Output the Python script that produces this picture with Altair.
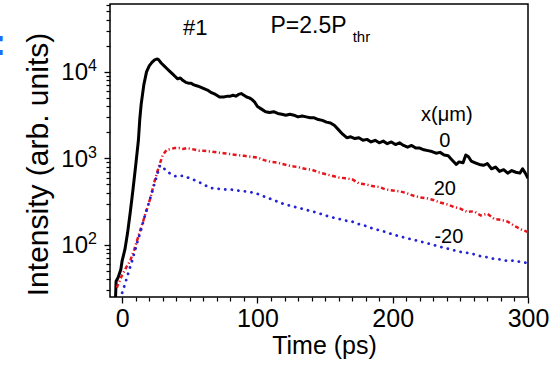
import altair as alt
import pandas as pd

FONT = "Liberation Sans"

# ---- series: time (ps) and intensity (arb. units) ----
t_x0 = [-5, -4.5, -3, -1, 0, 2, 4, 6, 8, 10, 12, 13, 14, 16, 18, 20, 22, 24, 26, 27,
        29, 31, 33, 35, 37, 39, 41, 43, 45, 47, 49, 51, 53, 55, 57, 60, 63, 66, 69, 72,
        75, 78, 80, 82, 84, 86, 88, 90, 92, 94, 96, 98, 100, 103, 106, 109, 112, 115, 118, 121,
        124, 127, 130, 133, 136, 139, 142, 145, 148, 151, 154, 157, 160, 163, 166, 169, 172, 175, 178, 181,
        184, 187, 190, 193, 196, 199, 202, 205, 208, 211, 214, 217, 220, 223, 226, 229, 232, 235, 238, 241,
        244, 247, 249, 252, 254, 256, 258, 261, 264, 267, 270, 273, 276, 279, 282, 285, 288, 291, 294, 296,
        298, 300]
i_x0 = [22, 38, 42, 52, 66, 88, 138, 240, 437, 832, 1622, 2818, 4169, 7079, 10000, 11750, 12880, 13800, 14130, 13800,
        12590, 11750, 10960, 10230, 9550, 8913, 8318, 8511, 7943, 7586, 7413, 7413, 7079, 6918, 6761, 6457, 6166, 5754, 5495, 5129,
        5129, 5248, 5248, 5370, 5248, 5495, 5623, 5370, 5129, 5012, 4786, 4467, 3981, 3715, 3467, 3388, 3467, 3311, 3236, 3162,
        3236, 3162, 3020, 3090, 3020, 2951, 2951, 2818, 2754, 2630, 2570, 2399, 2138, 1905, 1738, 1778, 1698, 1738, 1622, 1660,
        1549, 1622, 1514, 1585, 1479, 1549, 1445, 1514, 1413, 1349, 1413, 1318, 1318, 1259, 1230, 1202, 1148, 1175, 1096, 1072,
        955, 851, 912, 891, 1096, 1047, 933, 891, 851, 832, 871, 759, 794, 708, 741, 676, 724, 692, 676, 759,
        676, 589]

t_x20 = [-4, -2, 0, 3, 6, 9, 12, 15, 18, 21, 24, 27, 30, 33, 36, 39, 42, 45, 48, 51,
         54, 57, 60, 65, 70, 75, 80, 85, 90, 95, 100, 105, 110, 115, 120, 125, 130, 135, 140, 145,
         150, 155, 160, 165, 170, 175, 180, 185, 190, 195, 200, 205, 210, 215, 220, 225, 230, 235, 240, 245,
         250, 255, 260, 265, 270, 275, 280, 285, 290, 295, 300]
i_x20 = [32, 38, 45, 55, 66, 89, 126, 178, 251, 355, 550, 794, 1096, 1259, 1288, 1318, 1318, 1288, 1318, 1288,
         1259, 1230, 1230, 1202, 1175, 1148, 1122, 1096, 1072, 1047, 1023, 955, 912, 891, 851, 813, 794, 759, 741, 692,
         661, 631, 603, 589, 575, 513, 501, 479, 468, 437, 427, 417, 398, 372, 355, 347, 331, 309, 295, 275,
         263, 240, 245, 219, 229, 200, 195, 186, 166, 151, 141]

t_xm20 = [0, 2, 5, 8, 11, 14, 17, 20, 23, 26, 28, 30, 33, 36, 40, 45, 50, 55, 60, 65,
          70, 75, 80, 85, 90, 95, 100, 105, 110, 115, 120, 125, 130, 135, 140, 145, 150, 155, 160, 165,
          170, 175, 180, 185, 190, 195, 200, 205, 210, 215, 220, 225, 230, 235, 240, 245, 250, 255, 260, 265,
          270, 275, 280, 285, 290, 295, 300]
i_xm20 = [28, 35, 50, 71, 105, 151, 224, 316, 457, 661, 832, 794, 708, 661, 617, 631, 589, 550, 501, 457,
          447, 437, 437, 427, 417, 407, 389, 363, 339, 316, 295, 282, 269, 257, 245, 234, 219, 209, 200, 191,
          186, 174, 166, 155, 148, 141, 132, 126, 120, 115, 110, 105, 100, 95, 91, 87, 83, 81, 78, 74,
          72, 69, 68, 65, 66, 63, 62]

# ---- axes ----
x_major = [0, 100, 200, 300]
x_minor = [10, 20, 30, 40, 50, 60, 70, 80, 90, 110, 120, 130, 140, 150, 160, 170, 180, 190,
           210, 220, 230, 240, 250, 260, 270, 280, 290]
y_major = [100, 1000, 10000]
y_minor = [30, 40, 50, 60, 70, 80, 90, 200, 300, 400, 500, 600, 700, 800, 900,
           2000, 3000, 4000, 5000, 6000, 7000, 8000, 9000, 20000, 30000, 40000, 50000, 60000]
y_label_base = ["10", "10", "10"]
y_label_exp = ["2", "3", "4"]

# ---- annotations ----
ann_c_text = ["#1", "x(\u03bcm)", "0", "20", "-20"]
ann_c_t = [54, 240, 238.5, 238.5, 241.5]
ann_c_v = [26800, 2716, 1358, 379, 105]
ann_c_size = [22, 20, 20, 20, 20]

ann_l_text = ["P=2.5P", "thr"]
ann_l_t = [109.6, 170.4]
ann_l_v = [28250, 22200]
ann_l_size = [23, 15]

X_DOM = [-9, 300]
Y_DOM = [25, 61000]

xs = alt.Scale(domain=X_DOM, nice=False, zero=False)
ys = alt.Scale(type="log", domain=Y_DOM, nice=False)

df0 = pd.DataFrame({"t": t_x0, "v": i_x0})
df20 = pd.DataFrame({"t": t_x20, "v": i_x20})
dfm20 = pd.DataFrame({"t": t_xm20, "v": i_xm20})

x_axis = alt.Axis(
    orient="bottom",
    values=x_major, tickSize=6, tickWidth=1.3, tickColor="black",
    labelFont=FONT, labelFontSize=25, labelColor="black", labelPadding=3,
    labelFlush=False, labelOverlap=False,
    domain=False, grid=False,
    title="Time (ps)", titleFont=FONT, titleFontSize=25, titleFontWeight="normal",
    titleColor="black", titleBaseline="alphabetic", titleAlign="center",
    titleX=214, titleY=56,
)
y_axis = alt.Axis(
    orient="left",
    values=y_major, tickSize=6, tickWidth=1.3, tickColor="black",
    labels=False, domain=False, grid=False,
    title="Intensity (arb. units)", titleFont=FONT, titleFontSize=30, titleFontWeight="normal",
    titleColor="black", titleBaseline="alphabetic", titleAlign="center", titleAngle=270,
    titleX=-63, titleY=160,
)
x_axis_minor = alt.Axis(
    orient="bottom", values=x_minor, tickSize=4, tickWidth=1.2, tickColor="black",
    labels=False, domain=False, grid=False, title=None,
)
y_axis_minor = alt.Axis(
    orient="left", values=y_minor, tickSize=4, tickWidth=1.2, tickColor="black",
    labels=False, domain=False, grid=False, title=None,
)

black = alt.Chart(df0).mark_line(color="black", strokeWidth=3, clip=True, strokeJoin="round").encode(
    x=alt.X("t:Q", scale=xs, axis=x_axis),
    y=alt.Y("v:Q", scale=ys, axis=y_axis),
)
red = alt.Chart(df20).mark_line(color="#e8141c", strokeWidth=2.5, clip=True,
                                strokeDash=[4, 2.5, 1.2, 2.5]).encode(
    x=alt.X("t:Q", scale=xs, axis=None),
    y=alt.Y("v:Q", scale=ys, axis=None),
)
blue = alt.Chart(dfm20).mark_line(color="#2222d8", strokeWidth=2.8, clip=True, strokeCap="round",
                                  strokeDash=[0.1, 6.5]).encode(
    x=alt.X("t:Q", scale=xs, axis=None),
    y=alt.Y("v:Q", scale=ys, axis=None),
)

df_ylab = pd.DataFrame({"x": [X_DOM[0]] * 3, "v": y_major, "b": y_label_base, "e": y_label_exp})
# this layer also carries the minor ticks of both axes
ylab_base = alt.Chart(df_ylab).mark_text(align="right", baseline="alphabetic", dx=-22, dy=8.5,
                                         font=FONT, fontSize=24, color="black").encode(
    x=alt.X("x:Q", scale=xs, axis=x_axis_minor),
    y=alt.Y("v:Q", scale=ys, axis=y_axis_minor),
    text="b:N",
)
ylab_exp = alt.Chart(df_ylab).mark_text(align="left", baseline="alphabetic", dx=-22, dy=-0.5,
                                        font=FONT, fontSize=16, color="black").encode(
    x=alt.X("x:Q", scale=xs, axis=None),
    y=alt.Y("v:Q", scale=ys, axis=None),
    text="e:N",
)

df_ac = pd.DataFrame({"t": ann_c_t, "v": ann_c_v, "s": ann_c_text, "fs": ann_c_size})
ann_c = alt.Chart(df_ac).mark_text(align="center", baseline="alphabetic", font=FONT, color="black").encode(
    x=alt.X("t:Q", scale=xs, axis=None),
    y=alt.Y("v:Q", scale=ys, axis=None),
    text="s:N",
    size=alt.Size("fs:Q", scale=None),
)
df_al = pd.DataFrame({"t": ann_l_t, "v": ann_l_v, "s": ann_l_text, "fs": ann_l_size})
ann_l = alt.Chart(df_al).mark_text(align="left", baseline="alphabetic", font=FONT, color="black").encode(
    x=alt.X("t:Q", scale=xs, axis=None),
    y=alt.Y("v:Q", scale=ys, axis=None),
    text="s:N",
    size=alt.Size("fs:Q", scale=None),
)

# cropped blue glyph at the left edge of the original figure
df_mark = pd.DataFrame({"x": [X_DOM[0]], "v": [15700], "s": [":"]})
edge = alt.Chart(df_mark).mark_text(align="left", baseline="alphabetic", dx=-116, font=FONT,
                                    fontWeight="bold", fontSize=36, color="#1e6bff").encode(
    x=alt.X("x:Q", scale=xs, axis=None),
    y=alt.Y("v:Q", scale=ys, axis=None),
    text="s:N",
)

chart = alt.layer(black, red, blue, ylab_base, ylab_exp, ann_c, ann_l, edge).resolve_axis(
    x="independent", y="independent"
).properties(
    width=418, height=293,
    padding={"left": 110, "top": 4, "right": 23, "bottom": 72},
    autosize=alt.AutoSizeParams(type="none"),
    background="white",
).configure_view(stroke="black", strokeWidth=1.5)

chart.save("out.html", embed_options={"renderer": "svg", "actions": False})
